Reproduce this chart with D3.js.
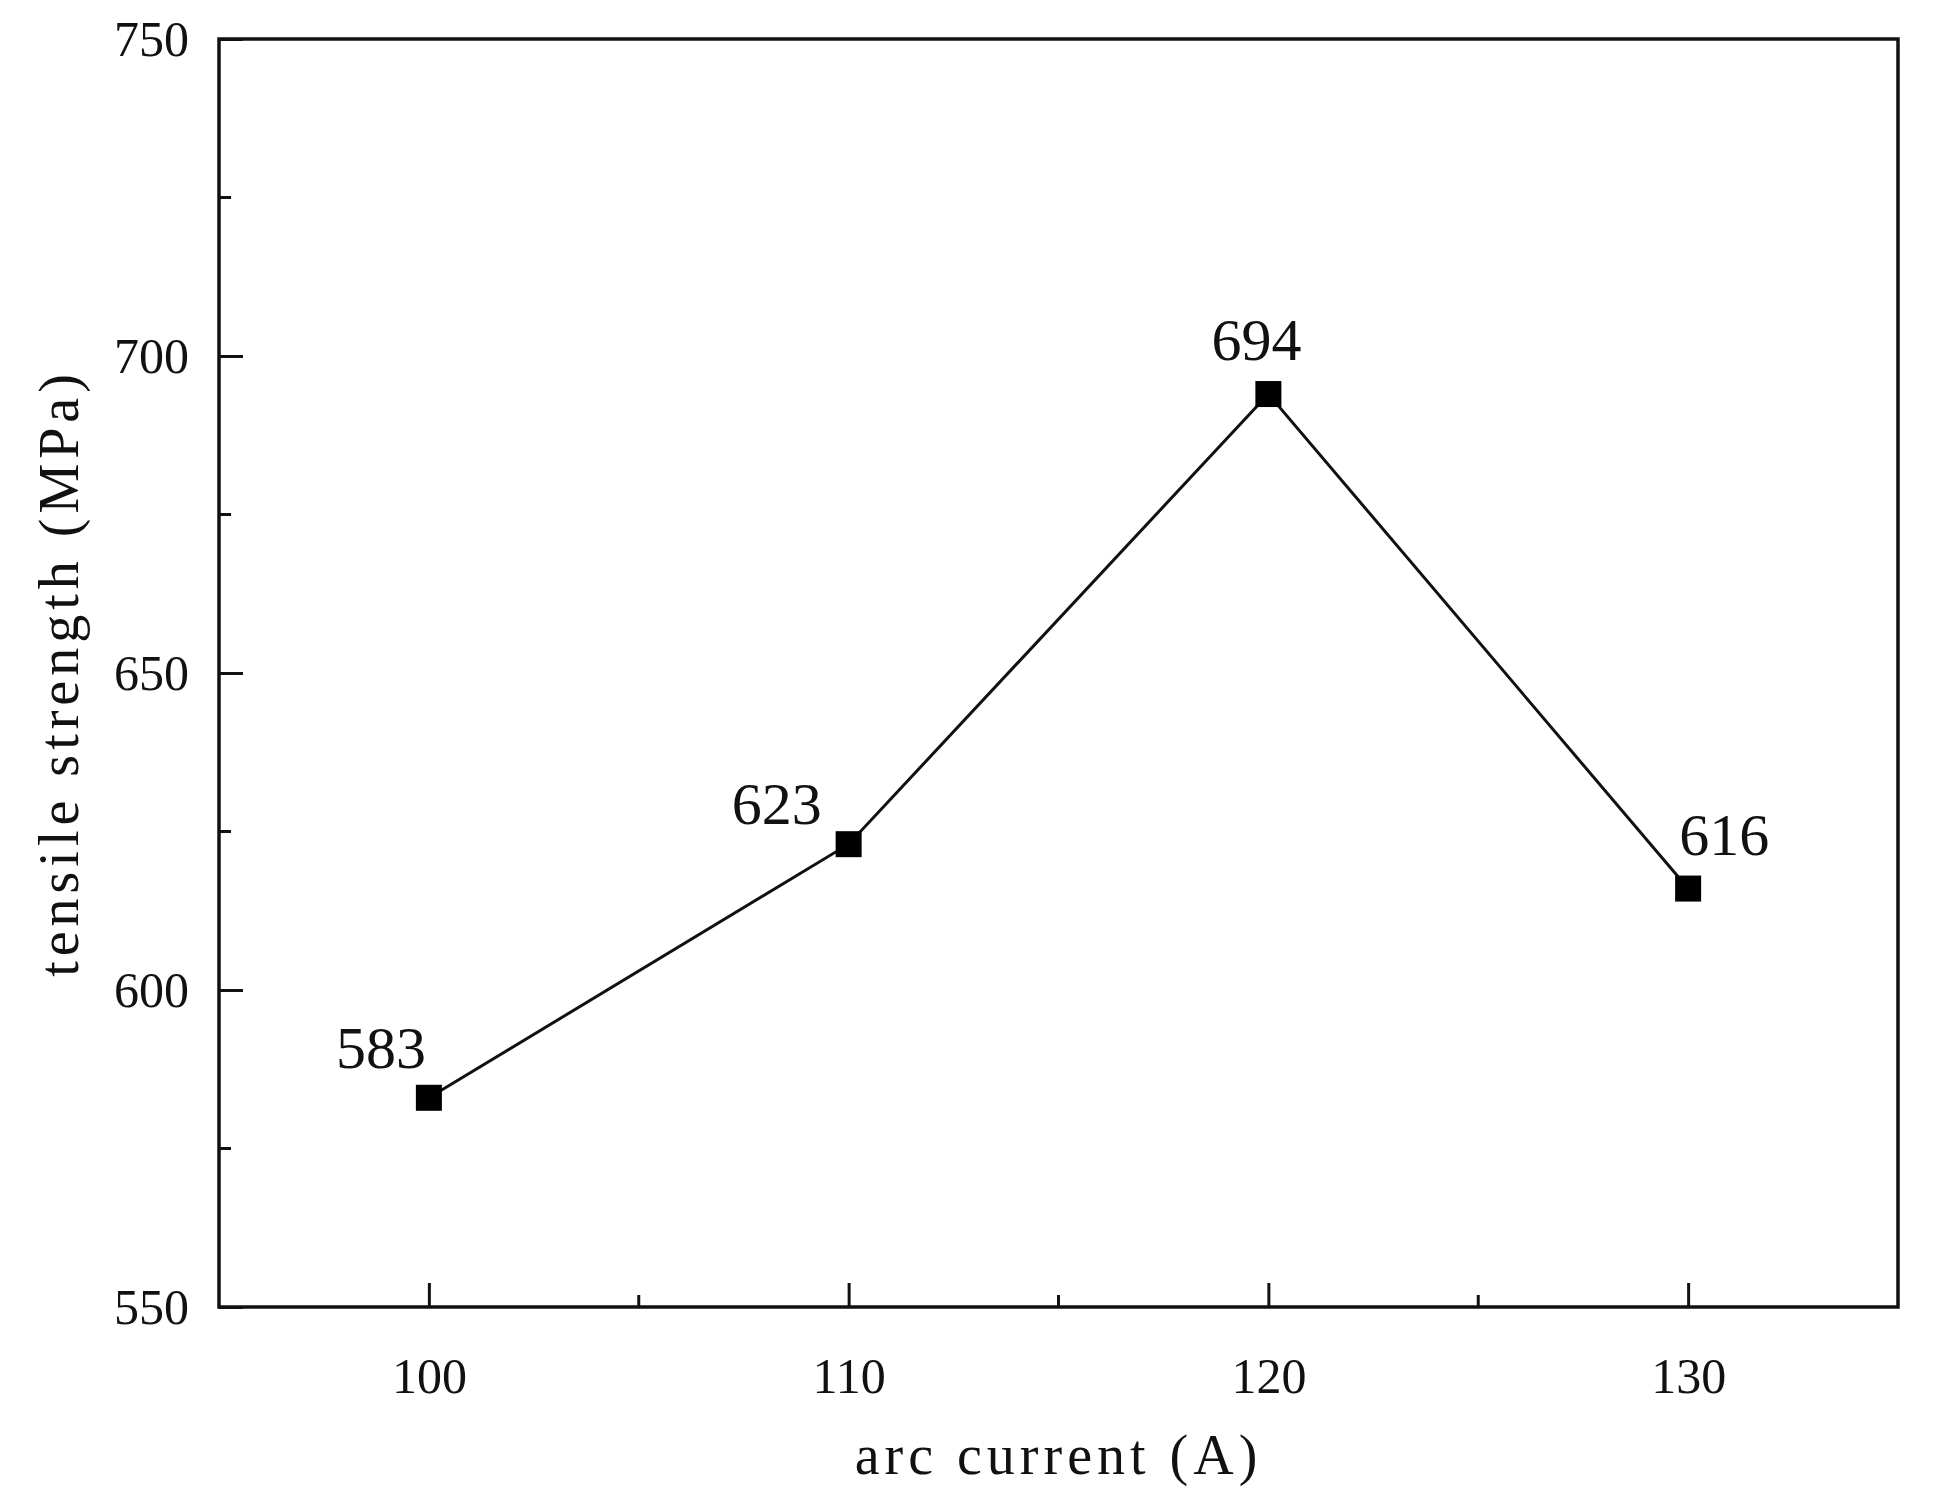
<!DOCTYPE html><html><head><meta charset="utf-8"><script src="https://d3js.org/d3.v7.min.js"></script>
<style>body{margin:0;background:#fff}</style></head><body><script>
const currents=[100,110,120,130];
const strengths=[583,623,694,616];
const xTicks=[100,110,120,130];
const yTicks=[550,600,650,700,750];
const W=1939,H=1495,L=219,R=1898,T=39,B=1307;
const svg=d3.select("body").append("svg").attr("width",W).attr("height",H);
const x=d3.scaleLinear().domain([95,135]).range([L,R]);
const y=d3.scaleLinear().domain([550,750]).range([B,T]);
const font="'Liberation Serif',serif";
const g=svg.append("g");
const ax=g.append("g").attr("transform",`translate(0,${B})`).call(d3.axisBottom(x).tickValues(xTicks).tickSizeInner(-24).tickSizeOuter(0).tickPadding(50));
const ay=g.append("g").attr("transform",`translate(${L},0)`).call(d3.axisLeft(y).tickValues(yTicks).tickSizeInner(-24).tickSizeOuter(0).tickPadding(30));
[ax,ay].forEach(a=>{a.selectAll("text").attr("font-family",font).attr("font-size",50).attr("fill","#111");a.select(".domain").remove();a.selectAll("line").attr("stroke","#111").attr("stroke-width",3);});
ax.selectAll("text").attr("dy","0.71em");
g.selectAll(".mx").data([105,115,125]).join("line").attr("x1",d=>x(d)).attr("x2",d=>x(d)).attr("y1",B).attr("y2",B-12).attr("stroke","#111").attr("stroke-width",3);
g.selectAll(".my").data([575,625,675,725]).join("line").attr("y1",d=>y(d)).attr("y2",d=>y(d)).attr("x1",L).attr("x2",L+12).attr("stroke","#111").attr("stroke-width",3);
g.append("rect").attr("x",L).attr("y",T).attr("width",R-L).attr("height",B-T).attr("fill","none").attr("stroke","#111").attr("stroke-width",3.5);
g.append("path").datum(currents.map((c,i)=>[c,strengths[i]])).attr("d",d3.line().x(d=>x(d[0])).y(d=>y(d[1]))).attr("fill","none").attr("stroke","#111").attr("stroke-width",3);
g.selectAll(".pt").data(strengths).join("rect").attr("x",(d,i)=>x(currents[i])-13).attr("y",d=>y(d)-13).attr("width",26).attr("height",26).attr("fill","#000");
const off=[[-48,-30],[-72,-20],[-12,-34],[36,-34]];
g.selectAll(".lb").data(strengths).join("text").attr("x",(d,i)=>x(currents[i])+off[i][0]).attr("y",(d,i)=>y(d)+off[i][1]).attr("text-anchor","middle").attr("font-family",font).attr("font-size",60).attr("fill","#111").text(d=>d);
svg.append("text").attr("x",(L+R)/2).attr("y",1474).attr("text-anchor","middle").attr("font-family",font).attr("font-size",56).attr("letter-spacing",5).attr("fill","#111").text("arc current (A)");
svg.append("text").attr("transform",`translate(78,${(T+B)/2}) rotate(-90)`).attr("text-anchor","middle").attr("font-family",font).attr("font-size",56).attr("letter-spacing",5).attr("fill","#111").text("tensile strength (MPa)");
</script></body></html>
